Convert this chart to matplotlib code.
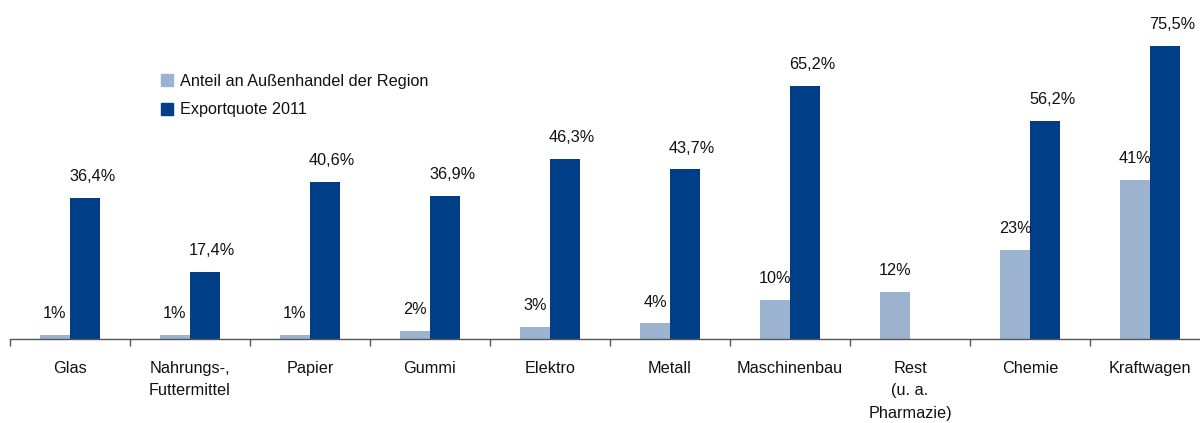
import numpy as np
import matplotlib.pyplot as plt
from matplotlib.patches import Patch

plt.rcParams['font.family'] = ['Liberation Sans', 'DejaVu Sans']

# Branchen und Werte (in %)
categories = ['Glas', 'Nahrungs-,\nFuttermittel', 'Papier', 'Gummi', 'Elektro', 'Metall',
              'Maschinenbau', 'Rest\n(u. a.\nPharmazie)', 'Chemie', 'Kraftwagen']
anteil = [1, 1, 1, 2, 3, 4, 10, 12, 23, 41]
exportquote = [36.4, 17.4, 40.6, 36.9, 46.3, 43.7, 65.2, np.nan, 56.2, 75.5]

light = '#9bb3cf'
dark = '#003f87'
txt = '#111111'
fs = 11.7

fig = plt.figure(figsize=(12, 4.23), dpi=100)
ax = fig.add_axes([10 / 1200, 84 / 423, 1.0, 339 / 423])

x = np.arange(len(categories))
w = 0.25
ax.bar(x - w / 2, anteil, width=w, color=light, zorder=2)
ax.bar(x + w / 2, exportquote, width=w, color=dark, zorder=2)

ax.set_xlim(-0.5, 9.5)
ax.set_ylim(0, 87.4)

# Datenbeschriftungen
for xi, v in zip(x, anteil):
    ax.text(xi - w / 2, v + 3.6, f"{v:.0f}%", ha='center', va='bottom',
            fontsize=fs, color=txt)
for xi, v in zip(x, exportquote):
    if np.isnan(v):
        continue
    ax.text(xi + w / 2 + 0.06, v + 3.6, f"{v:.1f}%".replace('.', ','), ha='center',
            va='bottom', fontsize=fs, color=txt)

for s in ['top', 'right', 'left']:
    ax.spines[s].set_visible(False)
ax.spines['bottom'].set_color('#555555')
ax.spines['bottom'].set_linewidth(1.0)
ax.set_yticks([])

ax.set_xticks(np.arange(-0.5, 9.6, 1.0))
ax.set_xticklabels([])
ax.tick_params(axis='x', direction='out', length=5, width=1, color='#555555')
ax.set_xticks(x, minor=True)
ax.set_xticklabels(categories, minor=True, fontsize=fs, color=txt, linespacing=1.6)
ax.tick_params(axis='x', which='minor', length=0, pad=16)

handles = [Patch(color=light, label='Anteil an Außenhandel der Region'),
           Patch(color=dark, label='Exportquote 2011')]
fig.legend(handles=handles, loc='upper left', bbox_to_anchor=(146 / 1200, 1 - 59 / 423),
           frameon=False, fontsize=fs, handlelength=0.75, handleheight=0.75,
           handletextpad=0.45, labelspacing=0.85, labelcolor=txt)

fig.savefig('out.png', dpi=100)
